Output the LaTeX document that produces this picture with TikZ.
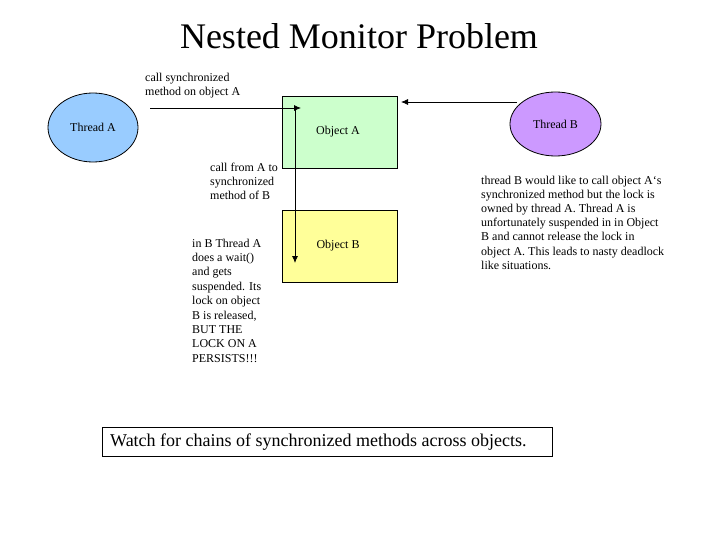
\documentclass[tikz,border=0pt]{standalone}
\usepackage{fontspec}
\setmainfont{Liberation Serif}
\usetikzlibrary{arrows.meta,shapes.geometric}
\begin{document}
\begin{tikzpicture}[x=1pt,y=-1pt,
  lbl/.style={anchor=north west,inner sep=0pt,align=left,font=\fontsize{12}{14.4}\selectfont},
  obj/.style={draw,line width=0.8pt,minimum width=115pt,minimum height=72pt,font=\fontsize{12}{14}\selectfont},
  thr/.style={draw,ellipse,line width=0.8pt,inner sep=0pt,font=\fontsize{12}{14}\selectfont},
  arr/.style={line width=0.8pt,-{Latex[length=7pt,width=6pt]}}]
\useasboundingbox[fill=white] (0,0) rectangle (720,540);
\node[inner sep=0pt,font=\fontsize{36}{40}\selectfont] (title) at (359,36) {Nested Monitor Problem};
\node[thr,fill={rgb,255:red,153;green,204;blue,255},minimum width=90pt,minimum height=69pt] (ta) at (93,127.5) {Thread A};
\node[thr,fill={rgb,255:red,204;green,153;blue,255},minimum width=91pt,minimum height=64pt] (tb) at (555.5,124) {Thread B};
\node[obj,fill={rgb,255:red,204;green,255;blue,204}] (oa) at (339.5,132) {};
\node[font=\fontsize{12}{14}\selectfont,inner sep=0pt] (oalbl) at (338,132) {Object A};
\node[obj,fill={rgb,255:red,255;green,255;blue,153}] (ob) at (339.5,246) {};
\node[font=\fontsize{12}{14}\selectfont,inner sep=0pt] (oblbl) at (338,246) {Object B};
\coordinate (s1) at (150,108);
\coordinate (e1) at (301,108);
\draw[arr] (s1) -- (e1);
\coordinate (s2) at (517,102);
\coordinate (e2) at (401,102);
\draw[arr] (s2) -- (e2);
\coordinate (s3) at (295,108);
\coordinate (e3) at (295,263);
\draw[arr] (s3) -- (e3);
\node[lbl] (l1) at (145,72.5) {call synchronized\\method on object A};
\node[lbl] (l2) at (210,162.5) {call from A to\\synchronized\\method of B};
\node[lbl] (l3) at (192,238.5) {in B Thread A\\does a wait()\\and gets\\suspended. Its\\lock on object\\B is released,\\BUT THE\\LOCK ON A\\PERSISTS!!!};
\node[lbl,font=\fontsize{12}{14.2}\selectfont] (l4) at (481,175.5) {thread B would like to call object A`s\\synchronized method but the lock is\\owned by thread A. Thread A is\\unfortunately suspended in in Object\\B and cannot release the lock in\\object A. This leads to nasty deadlock\\like situations.};
\node[draw,line width=0.8pt,minimum width=450pt,minimum height=29pt,inner sep=0pt] (box) at (327,441.5) {};
\node[anchor=west,inner sep=0pt,font=\fontsize{18}{20}\selectfont] (boxt) at (110,442) {Watch for chains of synchronized methods across objects.};
\end{tikzpicture}
\end{document}
